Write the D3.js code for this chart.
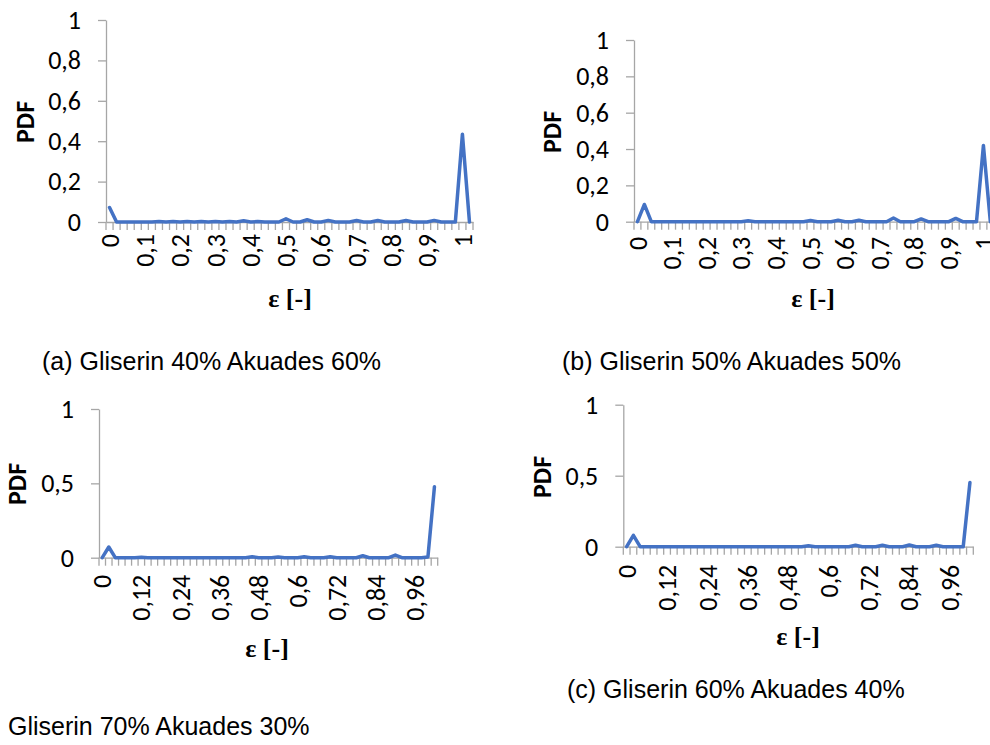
<!DOCTYPE html>
<html>
<head>
<meta charset="utf-8">
<script src="https://cdn.jsdelivr.net/npm/d3@7/dist/d3.min.js"></script>
<style>
  html, body { margin: 0; padding: 0; background: #fff; }
  svg { display: block; }
</style>
</head>
<body>
<svg id="chart" width="990" height="745"></svg>
<script>
// ---- data ----
const categories = ["0","0,02","0,04","0,06","0,08","0,1","0,12","0,14","0,16","0,18",
  "0,2","0,22","0,24","0,26","0,28","0,3","0,32","0,34","0,36","0,38",
  "0,4","0,42","0,44","0,46","0,48","0,5","0,52","0,54","0,56","0,58",
  "0,6","0,62","0,64","0,66","0,68","0,7","0,72","0,74","0,76","0,78",
  "0,8","0,82","0,84","0,86","0,88","0,9","0,92","0,94","0,96","0,98",
  "1","1,02"];

// (a) Gliserin 40% Akuades 60%
const pdfG40 = [0.072,0,0,0,0,0,0,0.002,0,0.002,
  0,0.002,0,0.003,0,0.002,0,0.003,0,0.006,
  0,0.002,0,0,0,0.016,0,0,0.011,0,
  0,0.008,0,0,0,0.007,0,0,0.007,0,
  0,0,0.007,0,0,0,0.008,0,0,0,
  0.435,0];
// (b) Gliserin 50% Akuades 50%
const pdfG50 = [0,0.095,0,0,0,0,0,0,0,0,
  0,0,0,0,0,0,0.005,0,0,0,
  0,0,0,0,0,0.007,0,0,0,0.008,
  0,0,0.008,0,0,0,0,0.02,0,0,
  0,0.015,0,0,0,0,0.018,0,0,0,
  0.42,0];
// Gliserin 70% Akuades 30%
const pdfG70 = [0,0.072,0,0,0,0,0.003,0,0,0,
  0,0,0,0,0,0,0,0,0,0,
  0,0,0,0.006,0,0,0,0.005,0,0,
  0,0.006,0,0,0,0.007,0,0,0,0,
  0.013,0,0,0,0,0.018,0,0,0,0,
  0.005,0.477];
// (c) Gliserin 60% Akuades 40%
const pdfG60 = [0,0.08,0,0,0,0,0,0,0,0,
  0,0,0,0,0,0,0,0,0,0,
  0,0,0,0,0,0,0,0.007,0,0,
  0,0,0,0,0.01,0,0,0,0.01,0,
  0,0,0.012,0,0,0,0.01,0,0,0,
  0,0.452];

const yTicksFine = [0, 0.2, 0.4, 0.6, 0.8, 1];
const yTicksCoarse = [0, 0.5, 1];

const captions = ["(a) Gliserin 40% Akuades 60%", "(b) Gliserin 50% Akuades 50%",
                  "Gliserin 70% Akuades 30%", "(c) Gliserin 60% Akuades 40%"];

// ---- layout (positions/styles) ----
const panels = [
  { values: pdfG40, yTicks: yTicksFine, every: 5, x0: 106, x1: 473, yb: 222, yt: 20, gap: 12,
    pdf: [25, 122], title: [290, 307], cap: [42, 370], caption: captions[0] },
  { values: pdfG50, yTicks: yTicksFine, every: 5, x0: 634, x1: 993.8, yb: 221.7, yt: 40, gap: 15,
    pdf: [552, 132], title: [813, 307], cap: [562, 370], caption: captions[1] },
  { values: pdfG70, yTicks: yTicksCoarse, every: 6, x0: 99, x1: 437.7, yb: 557.7, yt: 409, gap: 17,
    pdf: [17, 484], title: [267, 657], cap: [8, 735], caption: captions[2] },
  { values: pdfG60, yTicks: yTicksCoarse, every: 6, x0: 623.3, x1: 973.3, yb: 546.7, yt: 404.7, gap: 18,
    pdf: [542, 477], title: [798, 645], cap: [567, 698], caption: captions[3] }
];

const AXIS = "#a6a6a6";
const LINE = "#4472C4";
const TICKFONT = "Carlito, Lato, 'Open Sans', sans-serif";

const svg = d3.select("#chart");
const fmt = v => String(v).replace(".", ",");

panels.forEach(p => {
  const g = svg.append("g");
  const x = d3.scaleBand().domain(categories).range([p.x0, p.x1]).padding(0);
  const y = d3.scaleLinear().domain([0, 1]).range([p.yb, p.yt]);
  const bw = x.bandwidth();

  // Y axis
  const ya = g.append("g").attr("transform", `translate(${p.x0},0)`)
    .call(d3.axisLeft(y).tickValues(p.yTicks).tickFormat(fmt).tickSize(8).tickPadding(17).tickSizeOuter(0));
  ya.select(".domain").attr("stroke", AXIS).attr("stroke-width", 1.3);
  ya.selectAll(".tick line").attr("stroke", AXIS).attr("stroke-width", 1.3);
  ya.selectAll(".tick text").attr("fill", "#000").style("font-family", TICKFONT).style("font-size", "26px");

  // X axis
  const labelCats = categories.filter((c, i) => i % p.every === 0);
  const xa = g.append("g").attr("transform", `translate(0,${p.yb})`)
    .call(d3.axisBottom(x).tickValues(labelCats).tickSize(0).tickSizeOuter(0));
  xa.select(".domain").attr("stroke", AXIS).attr("stroke-width", 1.3);
  xa.selectAll(".tick text")
    .attr("fill", "#000")
    .attr("y", 0).attr("x", -p.gap).attr("dy", "0.35em")
    .attr("transform", "rotate(-90)")
    .style("text-anchor", "end")
    .style("font-family", TICKFONT).style("font-size", "26px");

  // category boundary tick marks
  const bounds = categories.map(c => x(c)).concat([x.range()[1]]);
  xa.append("g").selectAll("line").data(bounds).join("line")
    .attr("x1", d => d).attr("x2", d => d).attr("y1", 0).attr("y2", 8)
    .attr("stroke", AXIS).attr("stroke-width", 1.3);

  // line
  const line = d3.line().x((d, i) => x(categories[i]) + bw / 2).y(d => y(d));
  g.append("path").datum(p.values).attr("d", line)
    .attr("fill", "none").attr("stroke", LINE).attr("stroke-width", 3.5)
    .attr("stroke-linejoin", "round").attr("stroke-linecap", "round");

  // axis titles
  g.append("text").text("PDF")
    .attr("transform", `translate(${p.pdf[0]},${p.pdf[1]}) rotate(-90)`)
    .attr("text-anchor", "middle").attr("dy", "0.35em")
    .style("font-family", TICKFONT).style("font-weight", "bold").style("font-size", "26px");
  g.append("text").text("ε [-]")
    .attr("x", p.title[0]).attr("y", p.title[1]).attr("text-anchor", "middle")
    .style("font-family", "'Liberation Serif', serif").style("font-weight", "bold").style("font-size", "26px");

  // caption
  g.append("text").text(p.caption)
    .attr("x", p.cap[0]).attr("y", p.cap[1])
    .style("font-family", "'Liberation Sans', Arial, sans-serif").style("font-size", "25px");
});
</script>
</body>
</html>
